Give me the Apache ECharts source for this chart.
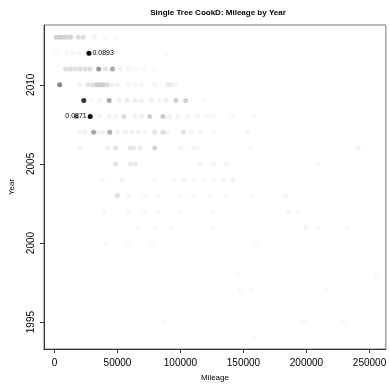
<!DOCTYPE html>
<html>
<head>
<meta charset="utf-8">
<script src="https://cdn.jsdelivr.net/npm/echarts@6.0.0/dist/echarts.min.js"></script>
<style>
  html, body { margin: 0; padding: 0; background: #fff; }
  #chart { width: 389px; height: 387px; }
</style>
</head>
<body>
<div id="chart"></div>
<script>
// one row per model year: mileage of each car and its Cook's distance
const rowYears = [2013, 2012, 2011, 2010, 2009, 2008, 2007, 2006, 2005, 2004, 2003, 2002, 2001, 2000, 1998, 1997, 1995, 1994]
const rowMileage = [
  [1550, 4650, 7750, 10300, 12870, 18840, 22710, 31780, 40540, 48300],
  [1550, 9530, 14960, 20390, 25040, 27370, 33570, 38220, 42090, 48300, 88610],
  [8760, 12640, 16510, 20390, 24260, 28140, 35120, 40540, 45970, 52170, 59150, 65350, 71550, 79310],
  [4100, 20160, 26590, 30470, 33800, 36900, 38990, 42090, 45970, 49850, 58920, 63800, 69220, 79310, 90160, 92480, 96360],
  [23260, 28920, 35660, 43410, 51160, 57600, 63800, 69220, 76980, 83180, 88610, 96360, 104110, 118060],
  [17290, 28370, 35660, 43410, 48300, 55040, 63800, 69220, 75660, 86050, 91000, 97680, 105430, 113180, 120930, 125820, 141320, 158370],
  [19610, 24030, 31010, 34340, 38220, 43870, 49850, 56280, 61470, 66670, 71780, 79540, 86050, 89150, 102320, 108690, 115740, 126050, 153180],
  [20160, 42090, 48530, 60160, 62770, 67910, 79540, 100240, 110540, 113180, 155820, 241090],
  [48530, 60160, 64100, 115740, 126050, 136440, 208760],
  [38220, 53720, 79540, 95040, 102790, 110540, 118290, 126050, 133800, 141550],
  [49850, 58920, 71780, 82170, 100240, 110540, 123490, 136440, 157060, 182950],
  [39530, 58920, 71780, 82170, 100240, 126050, 185510, 193260],
  [66670, 79540, 92480, 126050, 199690, 208760, 232020],
  [40780, 58920, 76980, 159690],
  [145430, 255270],
  [146750, 155820, 215200],
  [87290, 195810, 199690, 229460],
  [158370]
]
const rowCookD = [
  [0.016, 0.018, 0.016, 0.014, 0.015, 0.012, 0.012, 0.0045, 0.0025, 0.002],
  [0.002, 0.0025, 0.0035, 0.0035, 0.0035, 0.0893, 0.0035, 0.0025, 0.0045, 0.0025, 0.0025],
  [0.011, 0.012, 0.011, 0.012, 0.011, 0.012, 0.036, 0.009, 0.030, 0.0045, 0.0035, 0.0025, 0.0025, 0.002],
  [0.042, 0.0045, 0.010, 0.011, 0.017, 0.018, 0.016, 0.012, 0.0045, 0.0045, 0.0035, 0.0035, 0.0035, 0.0035, 0.007, 0.007, 0.0035],
  [0.071, 0.0025, 0.0045, 0.030, 0.0045, 0.007, 0.006, 0.0045, 0.0045, 0.0035, 0.006, 0.017, 0.016, 0.0025],
  [0.040, 0.0871, 0.0035, 0.0045, 0.0045, 0.012, 0.0045, 0.0045, 0.016, 0.018, 0.0045, 0.0045, 0.0045, 0.0035, 0.0025, 0.0025, 0.002, 0.002],
  [0.0035, 0.0045, 0.030, 0.0045, 0.0045, 0.028, 0.0045, 0.0045, 0.0045, 0.0045, 0.0035, 0.010, 0.012, 0.0045, 0.011, 0.0035, 0.0035, 0.0025, 0.0035],
  [0.0035, 0.0045, 0.010, 0.009, 0.008, 0.007, 0.016, 0.0035, 0.0035, 0.0025, 0.0025, 0.0035],
  [0.010, 0.008, 0.007, 0.0035, 0.0035, 0.0035, 0.0025],
  [0.0025, 0.0045, 0.0025, 0.0025, 0.0035, 0.0025, 0.0025, 0.0025, 0.0035, 0.0045],
  [0.011, 0.0025, 0.0025, 0.0025, 0.0025, 0.0025, 0.0025, 0.0025, 0.0025, 0.0035],
  [0.0025, 0.0025, 0.0025, 0.0025, 0.0025, 0.0025, 0.0035, 0.0025],
  [0.0025, 0.0025, 0.0025, 0.0025, 0.0035, 0.0025, 0.0025],
  [0.0025, 0.0025, 0.002, 0.002],
  [0.002, 0.002],
  [0.002, 0.002, 0.002],
  [0.002, 0.002, 0.002, 0.002],
  [0.002]
]
const xTicks = [0, 50000, 100000, 150000, 200000, 250000]
const yTicks = [1995, 2000, 2005, 2010]
// the most influential points get their value written next to them
const labelValues = [0.0893, 0.0871]
const labelSides = ['right', 'left']

const maxCook = Math.max(...rowCookD.flat())

// grey level: white for 0, black for the largest distance
function greyOf(c) {
  let g = Math.round(255 * (1 - c / maxCook))
  g = Math.max(0, Math.min(255, g))
  return 'rgb(' + g + ',' + g + ',' + g + ')'
}

let points = []
rowYears.forEach((yr, r) => {
  rowMileage[r].forEach((m, i) => {
    let c = rowCookD[r][i]
    let item = {
      value: [m, yr, c],
      itemStyle: { color: greyOf(c) },
    }
    let li = labelValues.indexOf(c)
    if (li >= 0) {
      item.label = {
        show: true,
        position: labelSides[li],
        distance: 1,
        formatter: c.toFixed(4),
      }
    }
    points.push(item)
  })
})
// darker points on top
points.sort((a, b) => a.value[2] - b.value[2])

const font = 'Liberation Sans, Arial, Helvetica, sans-serif'
const myChart = echarts.init(document.getElementById('chart'))
myChart.setOption({
  animation: false,
  backgroundColor: '#fff',
  title: {
    text: 'Single Tree CookD: Mileage by Year',
    left: 213,
    top: 4,
    textAlign: 'center',
    textStyle: { fontFamily: font, fontSize: 8, fontWeight: 'bold', color: '#000' },
  },
  grid: {
    left: 40,
    top: 25,
    right: -1,
    bottom: 33,
    show: true,
    borderColor: '#777',
    borderWidth: 1,
  },
  xAxis: {
    type: 'value',
    min: -8300,
    max: 263000,
    name: 'Mileage',
    nameLocation: 'middle',
    nameGap: 25,
    nameTextStyle: { fontFamily: font, fontSize: 8, color: '#000' },
    splitLine: { show: false },
    axisLine: { show: true, onZero: false, lineStyle: { color: '#333', width: 1 } },
    axisTick: { show: true, length: 4, customValues: xTicks, lineStyle: { color: '#333' } },
    axisLabel: {
      customValues: xTicks,
      hideOverlap: false,
      margin: 9,
      fontFamily: font,
      fontSize: 10,
      color: '#000',
      formatter: (v) => String(v),
    },
  },
  yAxis: {
    type: 'value',
    min: 1993.3,
    max: 2013.78,
    name: 'Year',
    nameLocation: 'middle',
    nameGap: 28,
    nameTextStyle: { fontFamily: font, fontSize: 8, color: '#000' },
    splitLine: { show: false },
    axisLine: { show: true, onZero: false, lineStyle: { color: '#333', width: 1 } },
    axisTick: { show: true, length: 4, customValues: yTicks, lineStyle: { color: '#333' } },
    axisLabel: {
      customValues: yTicks,
      rotate: 90,
      margin: 8,
      fontFamily: font,
      fontSize: 10,
      color: '#000',
      formatter: (v) => String(v),
    },
  },
  series: [
    {
      type: 'scatter',
      symbol: 'circle',
      symbolSize: 5,
      itemStyle: { opacity: 1 },
      data: points,
      label: {
        fontFamily: font,
        fontSize: 7,
        color: '#000',
      },
    },
  ],
})
</script>
</body>
</html>
